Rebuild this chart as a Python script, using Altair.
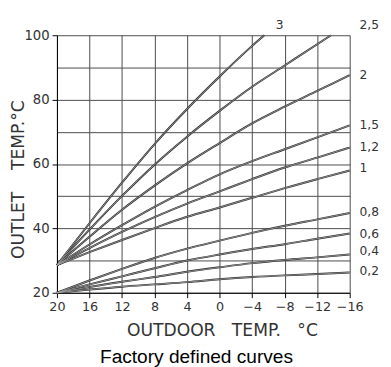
import altair as alt
import pandas as pd

# ---- data ----
x_ticks = [20, 16, 12, 8, 4, 0, -4, -8, -12, -16]

c02 = [20.0, 21.0, 21.9, 22.6, 23.3, 24.2, 24.9, 25.4, 25.8, 26.3]
c04 = [20.0, 21.8, 23.4, 24.9, 26.5, 27.9, 29.2, 30.2, 31.0, 31.9]
c06 = [20.0, 22.6, 25.1, 27.6, 30.0, 31.9, 33.6, 35.1, 36.8, 38.4]
c08 = [20.0, 23.8, 27.4, 30.8, 33.7, 36.2, 38.6, 40.8, 42.8, 44.8]
c10 = [28.6, 32.6, 36.4, 40.1, 43.6, 46.5, 49.5, 52.5, 55.3, 58.0]
c12 = [28.6, 33.9, 38.9, 43.5, 47.7, 51.5, 55.3, 58.9, 62.0, 65.1]
c15 = [28.6, 35.0, 41.0, 46.7, 51.9, 56.8, 60.9, 64.6, 68.3, 72.0]
c20 = [28.6, 37.4, 45.8, 53.3, 60.2, 66.5, 72.6, 77.8, 82.7, 87.6]
c25_x = [20, 16, 12, 8, 4, 0, -4, -8, -12, -13.7]
c25 = [28.6, 39.6, 50.1, 59.8, 68.5, 76.5, 84.0, 90.6, 97.2, 100.0]
c30_x = [20, 16, 12, 8, 4, 0, -4, -5.5]
c30 = [28.6, 41.6, 54.2, 66.2, 77.1, 87.2, 96.7, 100.0]

curve_names = ["0,2", "0,4", "0,6", "0,8", "1", "1,2", "1,5", "2", "2,5", "3"]
curve_xs = [x_ticks] * 8 + [c25_x, c30_x]
curve_ys = [c02, c04, c06, c08, c10, c12, c15, c20, c25, c30]

# curve labels (text, position)
label_text = ["3", "2,5", "2", "1,5", "1,2", "1", "0,8", "0,6", "0,4", "0,2"]
label_x = [-6.9, -17.2, -17.2, -17.2, -17.2, -17.2, -17.2, -17.2, -17.2, -17.2]
label_y = [103.3, 103.3, 87.7, 72.0, 65.3, 58.6, 45.1, 38.3, 32.8, 26.7]

y_ticks = [20, 30, 40, 50, 60, 70, 80, 90, 100]

rows = []
for name, xs, ys in zip(curve_names, curve_xs, curve_ys):
    for i, (xv, yv) in enumerate(zip(xs, ys)):
        rows.append({"curve": name, "x": xv, "y": yv, "i": i})
df = pd.DataFrame(rows)
lab = pd.DataFrame({"label": label_text, "x": label_x, "y": label_y})

AX_FONT = "DejaVu Sans"
NB = "\u00a0"

x_enc = alt.X(
    "x:Q",
    scale=alt.Scale(domain=[-16, 20], reverse=True, nice=False, zero=False),
    axis=alt.Axis(
        values=x_ticks,
        grid=True,
        labelOverlap=False,
        labelFlush=False,
        labelFontSize=13,
        title="OUTDOOR" + NB * 3 + "TEMP." + NB * 3 + "°C",
        titleX=168.5,
        titleY=44,
        titleBaseline="alphabetic",
        titleAlign="center",
    ),
)
y_enc = alt.Y(
    "y:Q",
    scale=alt.Scale(domain=[20, 100], nice=False, zero=False),
    axis=alt.Axis(
        values=y_ticks,
        grid=True,
        labelOverlap=False,
        labelFlush=False,
        labelExpr="datum.value % 20 == 0 ? datum.label : ''",
        tickOpacity={"condition": {"test": "datum.value % 20 != 0", "value": 0}, "value": 1},
        title="OUTLET" + NB * 4 + "TEMP.°C",
        titleX=-39,
        titleY=147,
        titleAngle=-90,
        titleBaseline="middle",
        titleAlign="center",
    ),
)

base = alt.Chart(df)
dark = base.mark_line(color="#2a2a2a", strokeWidth=2.0, interpolate="monotone").encode(
    x=x_enc, y=y_enc, detail="curve:N", order="i:Q"
)
light = base.mark_line(color="#a8a8a8", strokeWidth=0.8, interpolate="monotone").encode(
    x=x_enc, y=y_enc, detail="curve:N", order="i:Q"
)
labels = alt.Chart(lab).mark_text(
    align="left", baseline="middle", font=AX_FONT, fontSize=12.5, color="#333333"
).encode(x=x_enc, y=y_enc, text="label:N")

chart = (
    alt.layer(dark, light, labels)
    .properties(
        width=299,
        height=263,
        autosize=alt.AutoSizeParams(type="none"),
        padding={"left": 50, "top": 24, "right": 34, "bottom": 73},
        title=alt.TitleParams(
            "Factory defined curves",
            orient="bottom",
            anchor="middle",
            font="Liberation Sans",
            fontSize=19.5,
            fontWeight="normal",
            color="black",
            dx=-7,
            dy=5,
        ),
    )
    .configure_view(stroke=None)
    .configure_axis(
        gridColor="#4a4a4a",
        gridWidth=1,
        gridOpacity=1,
        domainColor="black",
        domainWidth=1,
        tickColor="black",
        tickSize=5,
        labelFont=AX_FONT,
        labelFontSize=13.5,
        labelColor="#333333",
        labelPadding=3,
        titleFont=AX_FONT,
        titleFontSize=17.5,
        titleFontWeight="normal",
        titleColor="#333333",
    )
)

chart.save("out.html", embed_options={"renderer": "svg", "actions": False})
